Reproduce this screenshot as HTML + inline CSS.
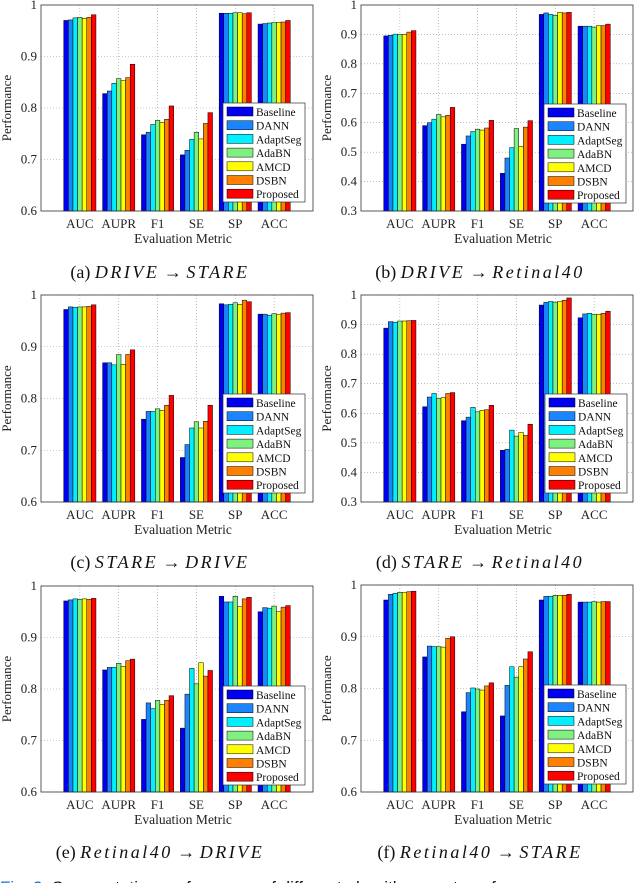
<!DOCTYPE html>
<html><head><meta charset="utf-8">
<style>
html,body{margin:0;padding:0;background:#fff;width:640px;height:883px;overflow:hidden}
svg{display:block;font-family:"Liberation Serif",serif}
</style></head>
<body>
<svg id="fig" width="640" height="883" viewBox="0 0 640 883" xmlns="http://www.w3.org/2000/svg"></svg>
<script>
const categories = ["AUC","AUPR","F1","SE","SP","ACC"];
const seriesNames = ["Baseline","DANN","AdaptSeg","AdaBN","AMCD","DSBN","Proposed"];
const seriesColors = ["#0000f0","#1a85ff","#00f0ff","#80f080","#ffff00","#ff8000","#ff0000"];
const ticksHigh = [0.6,0.7,0.8,0.9,1];
const tickLabelsHigh = ["0.6","0.7","0.8","0.9","1"];
const ticksLow = [0.3,0.4,0.5,0.6,0.7,0.8,0.9,1];
const tickLabelsLow = ["0.3","0.4","0.5","0.6","0.7","0.8","0.9","1"];
// values[category][series]
const dataA = [[.970,.971,.975,.976,.974,.976,.981],[.828,.833,.848,.857,.853,.859,.885],[.748,.753,.768,.776,.772,.778,.804],[.709,.718,.739,.753,.740,.770,.791],[.984,.984,.984,.985,.985,.983,.985],[.963,.964,.965,.966,.966,.967,.970]];
const dataB = [[.895,.897,.901,.900,.900,.908,.913],[.590,.600,.612,.628,.620,.625,.652],[.527,.555,.570,.578,.575,.582,.608],[.428,.480,.515,.580,.520,.585,.607],[.968,.973,.968,.965,.975,.973,.975],[.928,.928,.928,.925,.930,.930,.935]];
const dataC = [[.972,.977,.976,.977,.977,.978,.981],[.869,.869,.865,.885,.866,.885,.894],[.760,.775,.775,.780,.777,.787,.806],[.686,.711,.743,.755,.743,.756,.787],[.983,.981,.982,.985,.982,.990,.987],[.963,.963,.961,.964,.962,.965,.966]];
const dataD = [[.888,.910,.908,.912,.912,.913,.914],[.622,.655,.667,.650,.653,.667,.670],[.575,.587,.620,.605,.610,.612,.627],[.475,.478,.543,.523,.535,.525,.563],[.966,.975,.978,.976,.978,.982,.990],[.923,.936,.938,.934,.935,.938,.945]];
const dataE = [[.971,.973,.975,.974,.975,.974,.976],[.837,.842,.842,.850,.844,.855,.858],[.741,.773,.762,.778,.770,.778,.787],[.724,.790,.840,.810,.851,.825,.836],[.980,.969,.969,.980,.960,.975,.978],[.950,.958,.957,.961,.950,.959,.962]];
const dataF = [[.971,.982,.984,.986,.985,.987,.988],[.861,.882,.881,.881,.880,.897,.900],[.755,.792,.801,.799,.797,.805,.811],[.747,.806,.842,.822,.842,.857,.871],[.971,.978,.978,.980,.980,.980,.982],[.967,.967,.967,.968,.967,.968,.968]];

const NS="http://www.w3.org/2000/svg";
const svg=document.getElementById('fig');
function mk(tag,attrs,parent){const e=document.createElementNS(NS,tag);for(const k in attrs)e.setAttribute(k,attrs[k]);(parent||svg).appendChild(e);return e;}

const panels=[
 {id:'a',data:dataA,low:false,x0:41,x1:313,y0:5,y1:211,cap:[160,272],src:'DRIVE',dst:'STARE',leg:[223,103]},
 {id:'b',data:dataB,low:true,x0:361,x1:633,y0:5,y1:211,cap:[480,272],src:'DRIVE',dst:'Retinal40',leg:[544,104]},
 {id:'c',data:dataC,low:false,x0:41,x1:313,y0:295,y1:502,cap:[160,562],src:'STARE',dst:'DRIVE',leg:[223,394]},
 {id:'d',data:dataD,low:true,x0:361,x1:633,y0:295,y1:502,cap:[480,562],src:'STARE',dst:'Retinal40',leg:[545,394]},
 {id:'e',data:dataE,low:false,x0:41,x1:313,y0:586,y1:792,cap:[160,852],src:'Retinal40',dst:'DRIVE',leg:[223,686]},
 {id:'f',data:dataF,low:false,x0:361,x1:633,y0:585,y1:792,cap:[480,852],src:'Retinal40',dst:'STARE',leg:[544,685]}
];

panels.forEach(p=>{
 const g=mk('g',{});
 
 
 const ticks=p.low?ticksLow:ticksHigh, labels=p.low?tickLabelsLow:tickLabelsHigh;
 const vmin=ticks[0], vmax=ticks[ticks.length-1];
 const y=v=>p.y1-(v-vmin)/(vmax-vmin)*(p.y1-p.y0);
 const step=(p.x1-p.x0)/7;
 const xc=i=>p.x0+step*(i+1);
 ticks.forEach((t,i)=>{
  const gl=mk('line',{x1:p.x0,x2:p.x1,y1:y(t),y2:y(t),stroke:'#999','stroke-width':0.6,'stroke-dasharray':'1,2'},g);
  
  
  const tl=mk('text',{x:p.x0-4,y:y(t)+4,'text-anchor':'end','font-size':13,fill:'#222'},g);
  
  
  tl.textContent=labels[i];
 });
 categories.forEach((c,i)=>{
  const gl=mk('line',{x1:xc(i),x2:xc(i),y1:p.y0,y2:p.y1,stroke:'#999','stroke-width':0.6,'stroke-dasharray':'1,2'},g);
  
  
 });
 const bw=4.6, gw=bw*7;
 categories.forEach((c,i)=>{
  p.data[i].forEach((v,s)=>{
   const bx=xc(i)-gw/2+s*bw;
   const r=mk('rect',{x:bx,y:y(v),width:bw,height:p.y1-y(v),fill:seriesColors[s],stroke:'#000','stroke-width':0.5},g);
   
   
  });
  const t=mk('text',{x:xc(i),y:p.y1+17,'text-anchor':'middle','font-size':13,fill:'#222'},g);
  
  
  t.textContent=c;
 });
 const box=mk('rect',{x:p.x0,y:p.y0,width:p.x1-p.x0,height:p.y1-p.y0,fill:'none',stroke:'#333','stroke-width':0.8},g);
 
 
 const xt=mk('text',{x:(p.x0+p.x1)/2+6,y:p.y1+32,'text-anchor':'middle','font-size':13.5,fill:'#222'},g);
 
 
 xt.textContent='Evaluation Metric';
 const yx=p.x0-30, yy=(p.y0+p.y1)/2;
 const yt=mk('text',{x:yx,y:yy,'text-anchor':'middle','font-size':13,fill:'#222',transform:`rotate(-90 ${yx} ${yy})`},g);
 
 
 yt.textContent='Performance';
 const lg=mk('g',{},g);
 
 
 mk('rect',{x:p.leg[0],y:p.leg[1],width:82,height:99,fill:'#fff',stroke:'#333','stroke-width':0.7},lg);
 seriesNames.forEach((n,s)=>{
  const ry=p.leg[1]+3+s*13.7;
  const sw=mk('rect',{x:p.leg[0]+4,y:ry+1,width:26,height:9,fill:seriesColors[s],stroke:'#000','stroke-width':0.5},lg);
  
  
  const lt=mk('text',{x:p.leg[0]+33,y:ry+10,'font-size':11.5,fill:'#111'},lg);
  
  
  lt.textContent=n;
 });
 const cp=mk('text',{x:p.cap[0],y:p.cap[1]+6,'text-anchor':'middle','font-size':18,fill:'#111'},g);
 
 
 const t1=mk('tspan',{},cp);t1.textContent='('+p.id+') ';
 const t2=mk('tspan',{'font-style':'italic','letter-spacing':'2.5'},cp);t2.textContent=p.src;
 const t3=mk('tspan',{},cp);t3.textContent=' → ';
 const t4=mk('tspan',{'font-style':'italic','letter-spacing':'2.5'},cp);t4.textContent=p.dst;
});
const fc=mk('text',{x:0,y:893,'font-size':17,'font-family':'Liberation Sans, sans-serif',fill:'#111'});


const f1=mk('tspan',{fill:'#1a6fd0'},fc);f1.textContent='Fig. 3.';
const f2=mk('tspan',{},fc);f2.textContent='    Segmentation performance of different algorithms on transfer';
</script>
</body></html>
